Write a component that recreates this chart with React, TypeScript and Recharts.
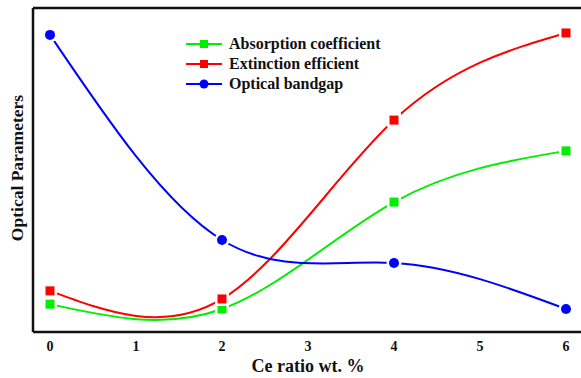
import React from "react";
import { Line, LineChart, ReferenceLine, XAxis, YAxis } from "recharts";

const ceRatio = [0, 2, 4, 6];
const absorption = [8.6, 7.1, 40.1, 55.9];
const extinction = [12.7, 10.2, 65.4, 92.3];
const bandgap = [91.7, 28.4, 21.3, 7.1];
const xTicks = [0, 1, 2, 3, 4, 5, 6];

const rows = ceRatio.map((x, i) => ({
  x,
  absorption: absorption[i],
  extinction: extinction[i],
  bandgap: bandgap[i],
}));

const series = [
  { key: "absorption", name: "Absorption coefficient", color: "#00ee00", shape: "square" },
  { key: "extinction", name: "Extinction efficient", color: "#ff0000", shape: "square" },
  { key: "bandgap", name: "Optical bandgap", color: "#0000ff", shape: "circle" },
];

const FONT = "'Liberation Serif', 'Times New Roman', serif";

// Origin-style marker: white halo leaves a small gap in the line
const marker = (color: string, shape: string) => (props: any) => {
  const { cx, cy, index } = props;
  if (cx == null || cy == null) return <g key={index} />;
  if (shape === "circle") {
    return (
      <g key={index}>
        <circle cx={cx} cy={cy} r={7.5} fill="#fff" />
        <circle cx={cx} cy={cy} r={5} fill={color} />
      </g>
    );
  }
  return (
    <g key={index}>
      <rect x={cx - 7} y={cy - 7} width={14} height={14} fill="#fff" />
      <rect x={cx - 4.5} y={cy - 4.5} width={9} height={9} fill={color} />
    </g>
  );
};

function LegendBox() {
  return (
    <svg width={230} height={62} style={{ display: "block" }}>
      {series.map((s, i) => {
        const y = 8 + i * 20;
        return (
          <g key={s.key}>
            <line x1={1} x2={37} y1={y} y2={y} stroke={s.color} strokeWidth={2} />
            {s.shape === "circle" ? (
              <circle cx={19} cy={y} r={4.5} fill={s.color} />
            ) : (
              <rect x={15} y={y - 4} width={8} height={8} fill={s.color} />
            )}
            <text x={44} y={y + 5} fontFamily={FONT} fontWeight="bold" fontSize={16} fill="#111">
              {s.name}
            </text>
          </g>
        );
      })}
    </svg>
  );
}

const tickStyle = { fill: "#111", fontFamily: FONT, fontWeight: "bold", fontSize: 14 };

export default function App() {
  return (
    <div style={{ position: "fixed", left: 0, top: 0, width: 581, height: 378, overflow: "hidden", background: "#fff" }}>
      <LineChart width={600} height={378} data={rows} margin={{ top: 8, right: 12, bottom: 0, left: 32 }}>
        <XAxis
          dataKey="x"
          type="number"
          domain={[0, 6]}
          ticks={xTicks}
          padding={{ left: 17, right: 22 }}
          axisLine={{ stroke: "#111", strokeWidth: 2.5 }}
          tickLine={false}
          tickMargin={3}
          height={46}
          tick={tickStyle}
        />
        <YAxis
          domain={[0, 100]}
          width={1}
          tick={false}
          tickLine={false}
          axisLine={{ stroke: "#111", strokeWidth: 2.5 }}
        />
        {/* top frame edge */}
        <ReferenceLine y={100} stroke="#111" strokeWidth={2.5} />
        {series.map((s) => (
          <Line
            key={s.key}
            dataKey={s.key}
            name={s.name}
            type="natural"
            stroke={s.color}
            strokeWidth={2}
            dot={marker(s.color, s.shape)}
            activeDot={false}
            isAnimationActive={false}
          />
        ))}
      </LineChart>
      <div style={{ position: "absolute", left: 185, top: 36 }}>
        <LegendBox />
      </div>
      <div
        style={{
          position: "absolute",
          left: 308,
          top: 366,
          transform: "translate(-50%, -50%)",
          fontFamily: FONT,
          fontWeight: "bold",
          fontSize: 18,
          color: "#111",
          whiteSpace: "nowrap",
        }}
      >
        Ce ratio wt. %
      </div>
      <div
        style={{
          position: "absolute",
          left: 17,
          top: 168,
          transform: "translate(-50%, -50%) rotate(-90deg)",
          fontFamily: FONT,
          fontWeight: "bold",
          fontSize: 17.5,
          color: "#111",
          whiteSpace: "nowrap",
        }}
      >
        Optical Parameters
      </div>
    </div>
  );
}
